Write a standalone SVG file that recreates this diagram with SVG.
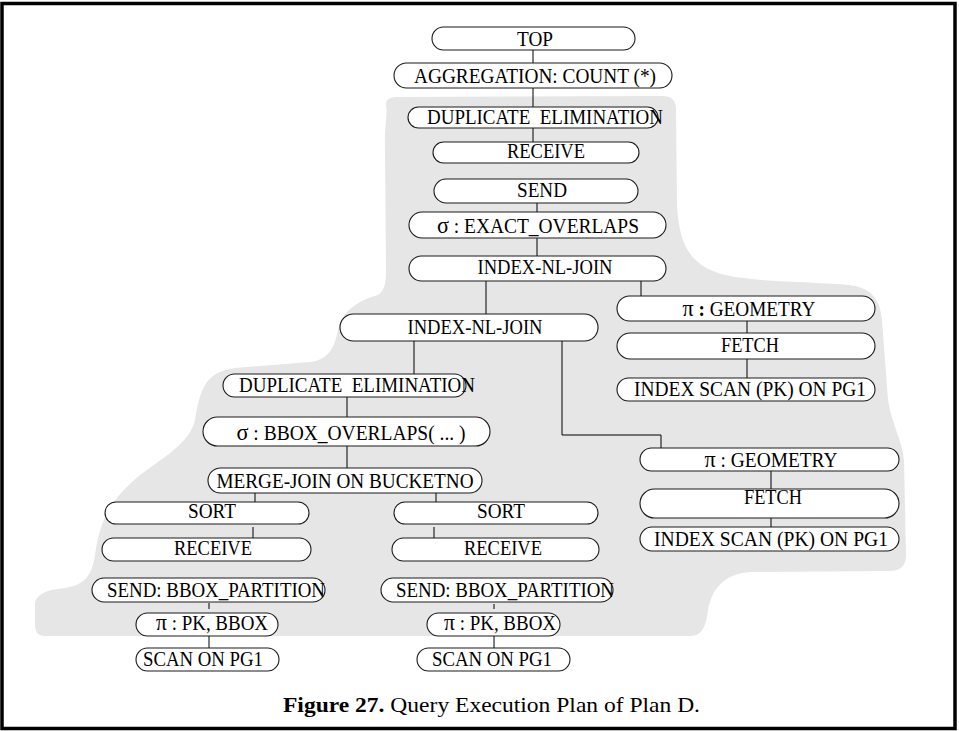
<svg xmlns="http://www.w3.org/2000/svg" width="959" height="731" viewBox="0 0 959 731">
<style>
.n rect{fill:#fff;stroke:#1a1a1a;stroke-width:1.1}
.n text{font-family:"Liberation Serif","Times New Roman",serif;font-size:21px;text-anchor:middle;fill:#000}
.g{font-size:24px}
#connectors line,#connectors polyline{stroke:#000;stroke-width:1;fill:none}
.cap{font-family:"Liberation Serif","Times New Roman",serif;font-size:22px;fill:#000}
</style>
<rect x="0" y="0" width="959" height="731" fill="#fff"/>
<rect x="2" y="3.5" width="953" height="725" fill="none" stroke="#000" stroke-width="3.5"/>
<path id="region" fill="#e6e6e6" d="M 398,97 L 662,96 C 672,96 676,100 676,110 L 677,205 C 679,245 690,268 730,276 C 760,282 820,282 850,285 C 872,288 880,300 882,320 L 888,400 C 892,425 902,440 904,460 L 906,555 C 906,566 900,571 890,571 L 750,572 C 725,574 712,588 708,610 C 706,625 703,636 690,636 L 45,636 C 38,636 35,632 35,625 L 35,605 C 35,595 45,590 65,588 C 85,585 92,575 95,555 C 100,520 110,500 140,475 C 175,450 190,440 195,420 C 200,390 205,372 235,368 L 310,362 C 330,360 335,345 338,330 C 342,310 360,300 378,295 C 385,290 386,282 386,270 L 385,150 C 384,130 388,112 386,105 C 386,99 390,97 398,97 Z"/>
<g id="connectors">
<line x1="533" y1="50" x2="533" y2="63"/>
<line x1="533" y1="88" x2="533" y2="107"/>
<line x1="533" y1="128" x2="533" y2="142"/>
<line x1="537" y1="203" x2="537" y2="212"/>
<line x1="537" y1="238" x2="537" y2="256"/>
<line x1="486" y1="281" x2="486" y2="314"/>
<line x1="641" y1="281" x2="641" y2="296"/>
<line x1="747" y1="321" x2="747" y2="333"/>
<line x1="747" y1="359" x2="747" y2="378"/>
<line x1="414" y1="341" x2="414" y2="374"/>
<polyline points="562,341 562,435 661,435 661,448"/>
<line x1="771" y1="471" x2="771" y2="489"/>
<line x1="771" y1="518" x2="771" y2="527"/>
<line x1="347" y1="397" x2="347" y2="417"/>
<line x1="347" y1="446" x2="347" y2="468"/>
<line x1="255" y1="493" x2="255" y2="502"/>
<line x1="436" y1="493" x2="436" y2="502"/>
<line x1="253" y1="527" x2="253" y2="538"/>
<line x1="434" y1="527" x2="434" y2="538"/>
<line x1="209" y1="603" x2="209" y2="609"/>
<line x1="209" y1="636" x2="209" y2="648"/>
<line x1="494" y1="604" x2="494" y2="609"/>
<line x1="494" y1="636" x2="494" y2="648"/>
</g>
<g id="top" class="n"><rect x="432" y="27" width="203" height="23" rx="11.5"/><text x="535" y="46" textLength="36" lengthAdjust="spacingAndGlyphs">TOP</text></g>
<g id="agg" class="n"><rect x="394" y="63" width="278" height="25" rx="12.5"/><text x="535" y="83" textLength="242" lengthAdjust="spacingAndGlyphs">AGGREGATION: COUNT (*)</text></g>
<g id="dup1" class="n"><rect x="408" y="107" width="250" height="21" rx="10.5"/><text x="545" y="124" textLength="236" lengthAdjust="spacingAndGlyphs">DUPLICATE&#160; ELIMINATION</text></g>
<g id="recv1" class="n"><rect x="433" y="142" width="206" height="21" rx="10.5"/><text x="546" y="158" textLength="78" lengthAdjust="spacingAndGlyphs">RECEIVE</text></g>
<g id="send1" class="n"><rect x="434" y="179" width="204" height="24" rx="12"/><text x="542" y="197" textLength="50" lengthAdjust="spacingAndGlyphs">SEND</text></g>
<g id="sigma1" class="n"><rect x="409" y="212" width="257" height="26" rx="13"/><text x="538" y="233" textLength="202" lengthAdjust="spacingAndGlyphs"><tspan class="g">σ</tspan> : EXACT_OVERLAPS</text></g>
<g id="inlj1" class="n"><rect x="409" y="256" width="257" height="25" rx="12.5"/><text x="545" y="274" textLength="135" lengthAdjust="spacingAndGlyphs">INDEX-NL-JOIN</text></g>
<g id="pi1" class="n"><rect x="617" y="296" width="258" height="25" rx="12.5"/><text x="749" y="316" textLength="133" lengthAdjust="spacingAndGlyphs"><tspan class="g">π</tspan><tspan font-weight="bold"> :</tspan> GEOMETRY</text></g>
<g id="fetch1" class="n"><rect x="617" y="333" width="258" height="26" rx="13"/><text x="750" y="352" textLength="58" lengthAdjust="spacingAndGlyphs">FETCH</text></g>
<g id="iscan1" class="n"><rect x="617" y="378" width="258" height="23" rx="11.5"/><text x="750" y="396" textLength="232" lengthAdjust="spacingAndGlyphs">INDEX SCAN (PK) ON PG1</text></g>
<g id="inlj2" class="n"><rect x="340" y="314" width="258" height="27" rx="13.5"/><text x="475" y="334" textLength="135" lengthAdjust="spacingAndGlyphs">INDEX-NL-JOIN</text></g>
<g id="pi2" class="n"><rect x="640" y="448" width="259" height="23" rx="11.5"/><text x="771" y="467" textLength="133" lengthAdjust="spacingAndGlyphs"><tspan class="g">π</tspan> : GEOMETRY</text></g>
<g id="fetch2" class="n"><rect x="640" y="489" width="259" height="29" rx="14.5"/><text x="773" y="504" textLength="58" lengthAdjust="spacingAndGlyphs">FETCH</text></g>
<g id="iscan2" class="n"><rect x="640" y="527" width="259" height="24" rx="12"/><text x="771" y="546" textLength="234" lengthAdjust="spacingAndGlyphs">INDEX SCAN (PK) ON PG1</text></g>
<g id="dup2" class="n"><rect x="223" y="374" width="243" height="23" rx="11.5"/><text x="357" y="392" textLength="236" lengthAdjust="spacingAndGlyphs">DUPLICATE&#160; ELIMINATION</text></g>
<g id="sigma2" class="n"><rect x="203" y="417" width="287" height="29" rx="14.5"/><text x="351" y="440" textLength="229" lengthAdjust="spacingAndGlyphs"><tspan class="g">σ</tspan> : BBOX_OVERLAPS( ... )</text></g>
<g id="merge" class="n"><rect x="208" y="468" width="274" height="25" rx="12.5"/><text x="345" y="488" textLength="257" lengthAdjust="spacingAndGlyphs">MERGE-JOIN ON BUCKETNO</text></g>
<g id="sortL" class="n"><rect x="105" y="502" width="204" height="22" rx="11"/><text x="212" y="518" textLength="48" lengthAdjust="spacingAndGlyphs">SORT</text></g>
<g id="recvL" class="n"><rect x="102" y="538" width="209" height="23" rx="11.5"/><text x="213" y="555" textLength="78" lengthAdjust="spacingAndGlyphs">RECEIVE</text></g>
<g id="sendL" class="n"><rect x="92" y="578" width="233" height="24" rx="12"/><text x="216" y="597" textLength="218" lengthAdjust="spacingAndGlyphs">SEND: BBOX_PARTITION</text></g>
<g id="piL" class="n"><rect x="136" y="613" width="142" height="23" rx="11.5"/><text x="212" y="630" textLength="112" lengthAdjust="spacingAndGlyphs"><tspan class="g">π</tspan> : PK, BBOX</text></g>
<g id="scanL" class="n"><rect x="136" y="648" width="143" height="23" rx="11.5"/><text x="203" y="666" textLength="120" lengthAdjust="spacingAndGlyphs">SCAN ON PG1</text></g>
<g id="sortR" class="n"><rect x="394" y="502" width="204" height="22" rx="11"/><text x="501" y="518" textLength="48" lengthAdjust="spacingAndGlyphs">SORT</text></g>
<g id="recvR" class="n"><rect x="392" y="538" width="207" height="23" rx="11.5"/><text x="503" y="555" textLength="78" lengthAdjust="spacingAndGlyphs">RECEIVE</text></g>
<g id="sendR" class="n"><rect x="381" y="578" width="232" height="24" rx="12"/><text x="505" y="597" textLength="218" lengthAdjust="spacingAndGlyphs">SEND: BBOX_PARTITION</text></g>
<g id="piR" class="n"><rect x="427" y="613" width="133" height="23" rx="11.5"/><text x="500" y="630" textLength="112" lengthAdjust="spacingAndGlyphs"><tspan class="g">π</tspan> : PK, BBOX</text></g>
<g id="scanR" class="n"><rect x="417" y="648" width="153" height="23" rx="11.5"/><text x="492" y="666" textLength="120" lengthAdjust="spacingAndGlyphs">SCAN ON PG1</text></g>
<text class="cap" x="283" y="712" textLength="417" lengthAdjust="spacingAndGlyphs"><tspan font-weight="bold">Figure 27.</tspan> Query Execution Plan of Plan D.</text>
</svg>
